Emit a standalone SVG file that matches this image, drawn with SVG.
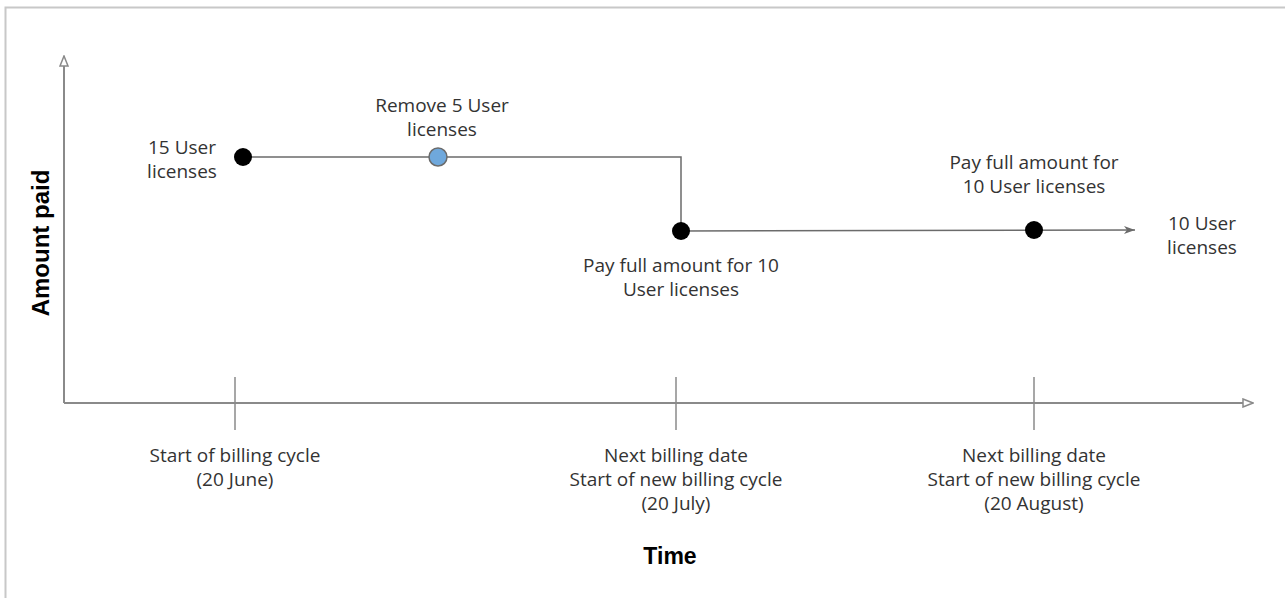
<svg xmlns="http://www.w3.org/2000/svg" width="1285" height="598" viewBox="0 0 1285 598">
  <style>
    .lbl { font-family: "Open Sans", "Liberation Sans", sans-serif; font-size: 19px; fill: #333333; text-anchor: middle; }
    .title { font-family: "Liberation Sans", Arial, sans-serif; font-weight: bold; fill: #000000; text-anchor: middle; }
    .axis { stroke: #8a8a8a; stroke-width: 2; fill: none; }
    .tick { stroke: #8a8a8a; stroke-width: 1.5; fill: none; }
    .step { stroke: #6b6b6b; stroke-width: 1.5; fill: none; }
    .dot { fill: #000000; }
  </style>
  <defs>
    <marker id="open-tri" viewBox="0 0 12 10" refX="11" refY="5" markerWidth="12" markerHeight="10" markerUnits="userSpaceOnUse" orient="auto">
      <path d="M1,1 L11,5 L1,9 Z" fill="#ffffff" stroke="#8a8a8a" stroke-width="1.5"/>
    </marker>
    <marker id="chevron" viewBox="0 0 12 10" refX="11" refY="5" markerWidth="12" markerHeight="10" markerUnits="userSpaceOnUse" orient="auto">
      <path d="M0,1 L11,5 L0,9 L3,5 Z" fill="#6b6b6b"/>
    </marker>
  </defs>

  <rect width="1285" height="598" fill="#ffffff"/>
  <!-- outer frame (top and left edges) -->
  <path d="M5.5,598 L5.5,7.5 L1285,7.5" fill="none" stroke="#c8c8c8" stroke-width="2"/>

  <!-- axes and ticks -->
  <g id="axes">
    <line class="axis" x1="64" y1="403" x2="64" y2="56" marker-end="url(#open-tri)"/>
    <line class="axis" x1="64" y1="403" x2="1253" y2="403" marker-end="url(#open-tri)"/>
    <line class="tick" x1="235" y1="377" x2="235" y2="430"/>
    <line class="tick" x1="676" y1="377" x2="676" y2="430"/>
    <line class="tick" x1="1034" y1="377" x2="1034" y2="430"/>
    <text class="title" font-size="24" transform="translate(49,243) rotate(-90)">Amount paid</text>
    <text class="title" font-size="23" x="670" y="564">Time</text>
  </g>

  <!-- connectors -->
  <g id="connectors">
    <polyline class="step" points="243,157 681,157 681,231"/>
    <line class="step" x1="681" y1="231" x2="1135" y2="230" marker-end="url(#chevron)"/>
  </g>

  <!-- events -->
  <g id="start-licenses">
    <circle class="dot" cx="243" cy="157" r="9"/>
    <text class="lbl" x="182" y="154">15 User</text>
    <text class="lbl" x="182" y="178">licenses</text>
  </g>
  <g id="remove-licenses">
    <circle cx="438" cy="157" r="9" fill="#6fa8dc" stroke="#6b6b6b" stroke-width="1.5"/>
    <text class="lbl" x="442" y="112">Remove 5 User</text>
    <text class="lbl" x="442" y="136">licenses</text>
  </g>
  <g id="pay-july">
    <circle class="dot" cx="681" cy="231" r="9"/>
    <text class="lbl" x="681" y="272">Pay full amount for 10</text>
    <text class="lbl" x="681" y="296">User licenses</text>
  </g>
  <g id="pay-august">
    <circle class="dot" cx="1034" cy="230" r="9"/>
    <text class="lbl" x="1034" y="169">Pay full amount for</text>
    <text class="lbl" x="1034" y="193">10 User licenses</text>
  </g>
  <g id="end-licenses">
    <text class="lbl" x="1202" y="230">10 User</text>
    <text class="lbl" x="1202" y="254">licenses</text>
  </g>

  <!-- billing dates -->
  <g id="date-june">
    <text class="lbl" x="235" y="462">Start of billing cycle</text>
    <text class="lbl" x="235" y="486">(20 June)</text>
  </g>
  <g id="date-july">
    <text class="lbl" x="676" y="462">Next billing date</text>
    <text class="lbl" x="676" y="486">Start of new billing cycle</text>
    <text class="lbl" x="676" y="510">(20 July)</text>
  </g>
  <g id="date-august">
    <text class="lbl" x="1034" y="462">Next billing date</text>
    <text class="lbl" x="1034" y="486">Start of new billing cycle</text>
    <text class="lbl" x="1034" y="510">(20 August)</text>
  </g>
</svg>
